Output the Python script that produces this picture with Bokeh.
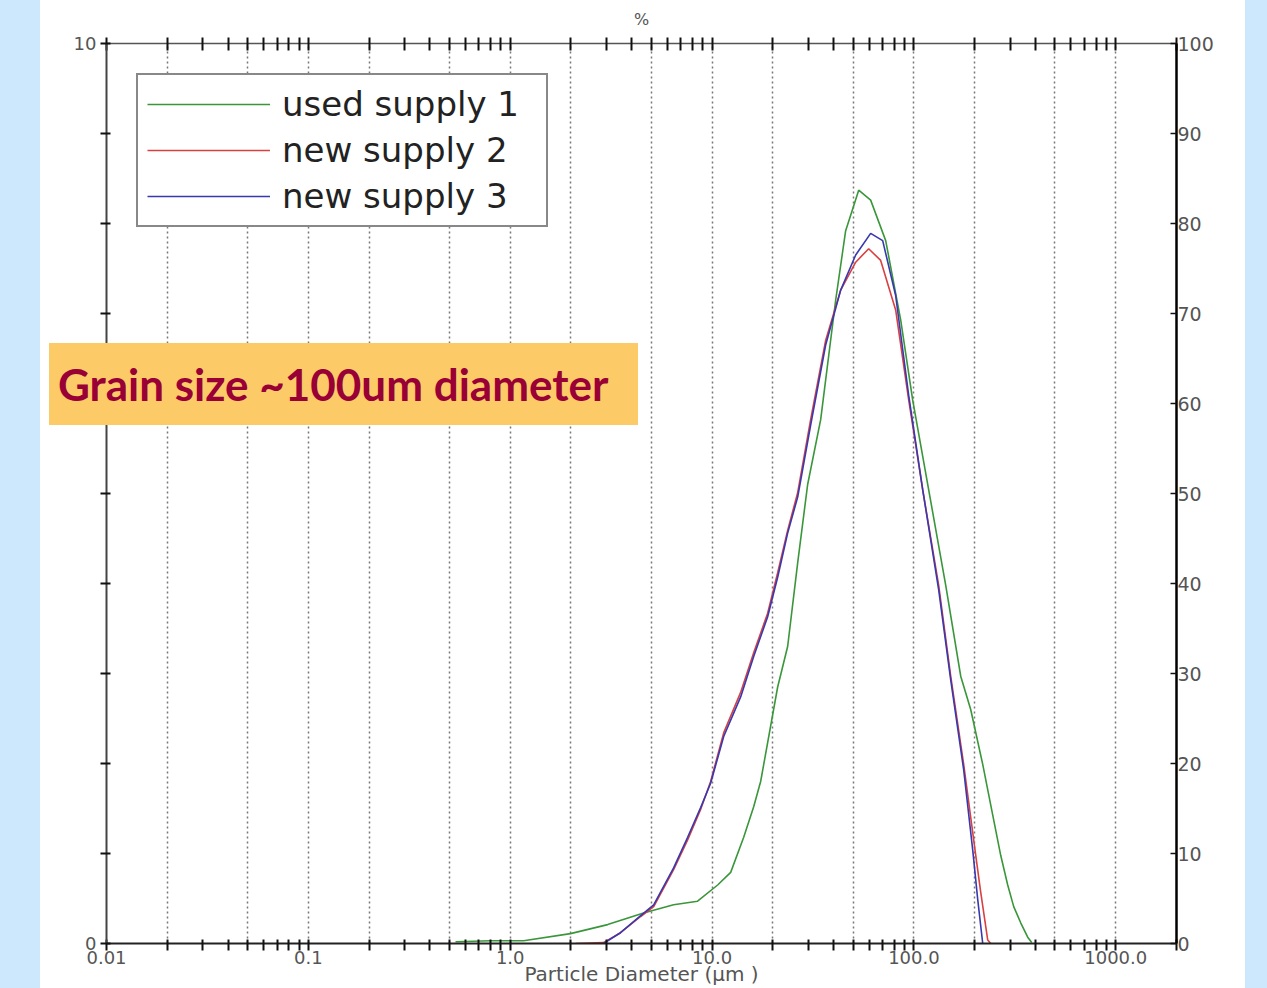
from bokeh.plotting import figure
from bokeh.models import (FixedTicker, LogAxis, LinearAxis, Range1d, Legend,
                          LegendItem, Div)
from bokeh.layouts import row
from bokeh.embed import file_html
from bokeh.resources import INLINE

# ---------------- data ----------------
used1_x = [0.536, 0.80, 1.165, 1.99, 3.04, 4.58, 6.45, 8.48, 10.66, 12.37, 14.35,
           16.08, 17.41, 21.14, 23.69, 26.56, 29.76, 34.53, 40.98, 45.92, 53.28,
           61.07, 72.50, 86.0, 98.6, 118.4, 143.8, 170.6, 191.2, 219.3, 245.7,
           269.2, 291.6, 312.3, 338.2, 366.3, 383.4]
used1_y = [0.02, 0.03, 0.03, 0.11, 0.21, 0.34, 0.43, 0.47, 0.65, 0.79, 1.18,
           1.52, 1.80, 2.85, 3.30, 4.23, 5.10, 5.82, 7.15, 7.92, 8.37,
           8.26, 7.81, 6.93, 6.04, 5.04, 3.98, 2.97, 2.60, 1.99, 1.43,
           0.98, 0.65, 0.41, 0.23, 0.07, 0.01]

new2_x = [2.11, 2.90, 3.52, 4.43, 5.14, 6.45, 7.57, 8.78, 9.84, 11.42, 13.86,
          16.08, 18.86, 21.14, 23.69, 26.56, 30.8, 36.55, 43.38, 51.48, 59.7,
          68.46, 81.23, 94.24, 110.6, 132.7, 152.2, 176.5, 202.5, 214.3, 232.1, 240.3]
new2_y = [0.0, 0.01, 0.12, 0.30, 0.41, 0.82, 1.15, 1.49, 1.80, 2.34, 2.79,
          3.23, 3.67, 4.12, 4.59, 5.01, 5.82, 6.70, 7.26, 7.57, 7.72,
          7.59, 7.04, 6.04, 5.04, 3.98, 2.97, 1.99, 0.98, 0.57, 0.04, 0.0]

new3_x = [2.90, 3.52, 4.43, 5.14, 6.45, 7.57, 8.78, 9.84, 11.42, 13.86, 16.08,
          18.86, 21.14, 23.69, 26.56, 30.8, 36.55, 43.38, 51.48, 61.07, 70.04,
          81.23, 94.24, 110.6, 132.7, 152.2, 176.5, 195.6, 207.1, 219.3]
new3_y = [0.0, 0.12, 0.31, 0.43, 0.84, 1.18, 1.51, 1.78, 2.30, 2.74, 3.19,
          3.63, 4.07, 4.56, 4.96, 5.76, 6.65, 7.26, 7.65, 7.89, 7.81,
          7.20, 6.09, 5.04, 3.93, 2.93, 1.93, 1.04, 0.49, 0.0]

series_names = ["used supply 1", "new supply 2", "new supply 3"]
series_colors = ["#3a963a", "#d94040", "#3838b0"]

x_decades = [0.01, 0.1, 1, 10, 100, 1000]
x_decade_labels = ["0.01", "0.1", "1.0", "10.0", "100.0", "1000.0"]
x_multipliers = [2, 3, 4, 5, 6, 7, 8, 9]
x_grid_multipliers = [1, 2, 5]
left_ticks = list(range(0, 11))
left_labelled = {0: "0", 10: "10"}
right_ticks = list(range(0, 101, 10))
note_text = "Grain size ~100um diameter"

# ---------------- derived tick lists ----------------
x_minor = [round(m * d, 6) for d in x_decades for m in x_multipliers if m * d <= 2000]
x_grid = [round(m * d, 6) for d in x_decades for m in x_grid_multipliers
          if 0.01 < m * d <= 1000]
dec_overrides = {d: lab for d, lab in zip(x_decades, x_decade_labels)}
left_overrides = {t: left_labelled.get(t, " ") for t in left_ticks}
top_overrides = {d: " " for d in x_decades}

TICK_FONT = "DejaVu Sans"
TICK_COLOR = "#555555"
SIDE_BLUE = "#cde8fc"

p = figure(width=1205, height=988, x_axis_type="log", x_range=(0.01, 2000),
           y_range=(0, 10), output_backend="svg", toolbar_location=None,
           min_border_left=66, min_border_right=69, min_border_top=43,
           min_border_bottom=44, background_fill_color="white",
           border_fill_color="white", outline_line_color=None)

p.extra_y_ranges = {"pct": Range1d(0, 100)}

# bottom axis
xa = p.xaxis[0]
xa.ticker = FixedTicker(ticks=x_decades, minor_ticks=x_minor)
xa.major_label_overrides = dec_overrides
xa.major_label_text_font = TICK_FONT
xa.major_label_text_font_size = "18px"
xa.major_label_text_color = TICK_COLOR
xa.major_label_standoff = 0
xa.axis_line_color = "#222222"
xa.axis_line_width = 2
for a in ("major", "minor"):
    setattr(xa, f"{a}_tick_in", 4)
    setattr(xa, f"{a}_tick_out", 7)
    setattr(xa, f"{a}_tick_line_width", 2)
    setattr(xa, f"{a}_tick_line_color", "#111111")
xa.axis_label = "Particle Diameter (µm )"
xa.axis_label_text_font = TICK_FONT
xa.axis_label_text_font_style = "normal"
xa.axis_label_text_font_size = "20px"
xa.axis_label_text_color = TICK_COLOR
xa.axis_label_standoff = -5

# top axis
top = LogAxis(ticker=FixedTicker(ticks=x_decades, minor_ticks=x_minor))
top.major_label_overrides = top_overrides
top.major_label_text_font_size = "2px"
top.major_label_text_color = None
top.major_label_standoff = 0
top.axis_line_color = "#555555"
top.axis_line_width = 1.5
for a in ("major", "minor"):
    setattr(top, f"{a}_tick_in", 7)
    setattr(top, f"{a}_tick_out", 6)
    setattr(top, f"{a}_tick_line_width", 2)
    setattr(top, f"{a}_tick_line_color", "#111111")
top.axis_label = "%"
top.axis_label_text_font = TICK_FONT
top.axis_label_text_font_style = "normal"
top.axis_label_text_font_size = "16px"
top.axis_label_text_color = TICK_COLOR
top.axis_label_standoff = 9
p.add_layout(top, "above")

# left axis
ya = p.yaxis[0]
ya.ticker = FixedTicker(ticks=left_ticks, minor_ticks=[])
ya.major_label_overrides = left_overrides
ya.major_label_text_font = TICK_FONT
ya.major_label_text_font_size = "18px"
ya.major_label_text_color = TICK_COLOR
ya.major_label_standoff = 4
ya.major_tick_in = 4
ya.major_tick_out = 6
ya.major_tick_line_width = 2
ya.major_tick_line_color = "#111111"
ya.minor_tick_line_color = None
ya.axis_line_color = "#444444"
ya.axis_line_width = 2

# right axis
ra = LinearAxis(y_range_name="pct", ticker=FixedTicker(ticks=right_ticks, minor_ticks=[]))
ra.major_label_text_font = TICK_FONT
ra.major_label_text_font_size = "19px"
ra.major_label_text_color = TICK_COLOR
ra.major_label_standoff = 1
ra.major_tick_in = 6
ra.major_tick_out = 0
ra.major_tick_line_width = 1.5
ra.major_tick_line_color = "#111111"
ra.minor_tick_line_color = None
ra.axis_line_color = "#000000"
ra.axis_line_width = 2.5
p.add_layout(ra, "right")

# grid
p.xgrid.ticker = FixedTicker(ticks=x_grid, minor_ticks=[])
p.xgrid.grid_line_color = "#777777"
p.xgrid.grid_line_dash = "2 3"
p.xgrid.grid_line_width = 1.5
p.ygrid.visible = False

# curves
renderers = []
for xs, ys, col in zip([used1_x, new2_x, new3_x], [used1_y, new2_y, new3_y], series_colors):
    r = p.line(xs, ys, line_color=col, line_width=1.6)
    renderers.append(r)

legend = Legend(items=[LegendItem(label=n, renderers=[r]) for n, r in zip(series_names, renderers)],
                location="top_left", margin=30, padding=9, spacing=6,
                glyph_width=123, glyph_height=36, label_height=36, label_width=255,
                label_standoff=12,
                label_text_font=TICK_FONT, label_text_font_size="34px",
                label_text_color="#222222", border_line_color="#111111",
                border_line_width=2, background_fill_color="white",
                background_fill_alpha=1.0)
p.add_layout(legend)

# annotation box overlaid on the chart (extends left of the plot frame)
note = Div(text=note_text, width=589, height=82, margin=0,
           styles={"position": "absolute", "left": "49px", "top": "343px",
                   "z-index": "10", "background-color": "#fdca68",
                   "color": "#990036", "font-family": "Lato",
                   "font-weight": "bold", "font-size": "44px",
                   "line-height": "82px", "padding-left": "9px",
                   "box-sizing": "border-box", "white-space": "nowrap"})

side_l = Div(text="", width=40, height=988, margin=0,
             styles={"background-color": SIDE_BLUE})
side_r = Div(text="", width=22, height=988, margin=0,
             styles={"background-color": SIDE_BLUE})
layout = row(side_l, p, side_r, note, spacing=0)

open("out.html", "w").write(file_html(layout, INLINE))
